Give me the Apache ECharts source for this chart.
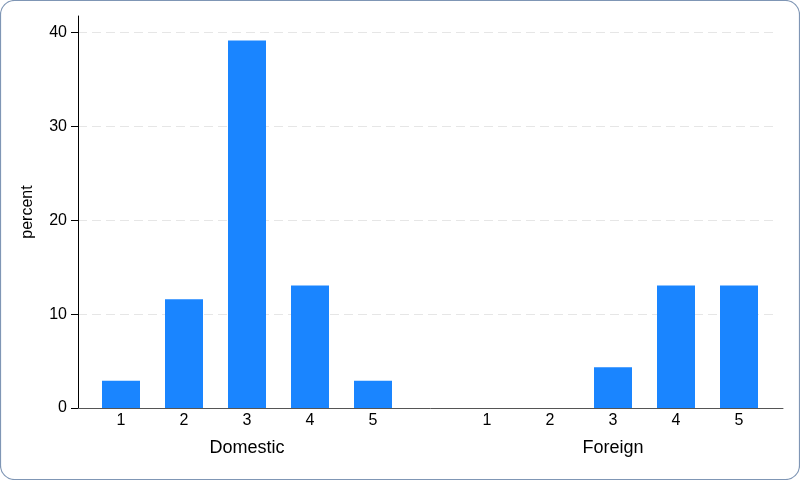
<!DOCTYPE html>
<html><head><meta charset="utf-8">
<script src="https://cdn.jsdelivr.net/npm/echarts@6/dist/echarts.min.js"></script>
<style>html,body{margin:0;padding:0;background:#fff}#c{width:800px;height:480px}</style>
</head><body><div id="c"></div>
<script>
const categories = ['1','2','3','4','5'];
const domestic = [2.90, 11.59, 39.13, 13.04, 2.90];
const foreign = [0, 0, 4.35, 13.04, 13.04];
const groupNames = ['Domestic', 'Foreign'];
const yTicks = [0, 10, 20, 30, 40];
const yTitle = 'percent';

const YMAX = 41.75;
const font = 'Liberation Sans, Arial, sans-serif';
const chart = echarts.init(document.getElementById('c'), null, {renderer: 'canvas'});
const catAxis = (gi, name) => ({
  gridIndex: gi, type: 'category', data: categories,
  axisLine: {show: false}, axisTick: {show: false},
  axisLabel: {color: '#000', fontSize: 16, fontFamily: font, margin: 5},
  name: name, nameLocation: 'middle', nameGap: 31,
  nameTextStyle: {color: '#000', fontSize: 18, fontFamily: font}
});
const hiddenY = gi => ({gridIndex: gi, type: 'value', min: 0, max: YMAX, show: false});
const hiddenX = gi => ({gridIndex: gi, type: 'value', min: 0, max: 1, axisLabel: {show: false}, axisTick: {show: false},
  splitLine: {show: false}, axisLine: {show: false}});
chart.setOption({
  animation: false,
  graphic: [{type: 'rect', shape: {x: 0.5, y: 0.5, width: 799, height: 479, r: 14},
    style: {fill: 'none', stroke: '#7f96b5', lineWidth: 1.2}, z: 100}],
  grid: [
    {left: 78, right: 22, top: 16, bottom: 72},
    {left: 89.5, width: 315, top: 16, bottom: 72},
    {left: 455.5, width: 315, top: 16, bottom: 72},
    {left: 78, right: 17, top: 16, bottom: 72}
  ],
  xAxis: [
    hiddenX(0),
    catAxis(1, groupNames[0]),
    catAxis(2, groupNames[1]),
    {gridIndex: 3, type: 'value', min: 0, max: 1, axisLabel: {show: false}, axisTick: {show: false},
     splitLine: {show: false}, axisLine: {show: true, lineStyle: {color: '#555', width: 1}}}
  ],
  yAxis: [
    {gridIndex: 0, type: 'value', min: 0, max: YMAX, interval: 10,
     axisLine: {show: true, lineStyle: {color: '#000', width: 1}},
     axisTick: {show: true, length: 7, lineStyle: {color: '#000'}, customValues: yTicks},
     axisLabel: {color: '#000', fontSize: 16, fontFamily: font, margin: 11, customValues: yTicks},
     splitLine: {show: true, lineStyle: {color: '#e6e6e6', type: [9, 5], width: 1}},
     name: yTitle, nameLocation: 'middle', nameGap: 42, nameRotate: 90,
     nameTextStyle: {color: '#000', fontSize: 16, fontFamily: font}},
    hiddenY(1), hiddenY(2), hiddenY(3)
  ],
  series: [
    {type: 'bar', xAxisIndex: 1, yAxisIndex: 1, data: domestic, barWidth: 38,
     itemStyle: {color: '#1a85ff'}},
    {type: 'bar', xAxisIndex: 2, yAxisIndex: 2, data: foreign, barWidth: 38,
     itemStyle: {color: '#1a85ff'}}
  ]
});
</script></body></html>
